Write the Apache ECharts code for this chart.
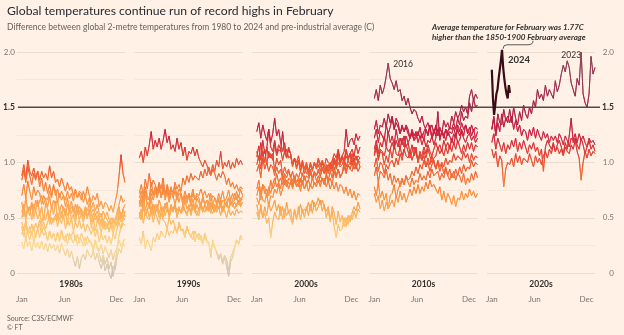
<!DOCTYPE html>
<html>
<head>
<meta charset="utf-8">
<script src="https://cdn.jsdelivr.net/npm/echarts@6/dist/echarts.min.js"></script>
<style>
  html, body { margin: 0; padding: 0; background: #fff1e5; }
  #chart { width: 624px; height: 335px; }
</style>
</head>
<body>
<div id="chart"></div>
<script>
// Day-of-year of each weekly sample (Jan 1 .. Dec 31)
const days = [1,8,15,22,29,36,43,50,57,64,71,78,85,92,99,106,113,120,127,134,141,148,155,162,169,176,183,190,197,204,211,218,225,232,239,246,253,260,267,274,281,288,295,302,309,316,323,330,337,344,351,358,365];
// 2024 only runs to early March
const days2024 = [1,5,9,13,17,21,25,29,33,37,41,45,49,53,57,61,65];

const decades = ['1980s', '1990s', '2000s', '2010s', '2020s'];
const monthTicks = [1, 152, 335];
const monthLabels = ['Jan', 'Jun', 'Dec'];
const threshold = 1.5;

// Temperature above the 1850-1900 average (C), one weekly array per year
const t1980 = [0.64,0.51,0.69,0.55,0.60, 0.48,0.62,0.57,0.66, 0.52,0.60,0.47,0.63, 0.58,0.49,0.61,0.53,0.65, 0.47,0.56,0.50,0.60, 0.55,0.44,0.58,0.49, 0.53,0.45,0.57,0.48,0.54, 0.46,0.55,0.49,0.58, 0.41,0.50,0.38,0.47, 0.44,0.36,0.47,0.39,0.45, 0.37,0.46,0.40,0.48, 0.44,0.56,0.49,0.58,0.51];
const t1981 = [0.70,0.80,0.68,0.83,0.74, 0.66,0.78,0.70,0.75, 0.72,0.62,0.70,0.66, 0.60,0.69,0.58,0.66,0.62, 0.66,0.55,0.62,0.57, 0.52,0.62,0.55,0.60, 0.58,0.50,0.61,0.53,0.57, 0.49,0.57,0.51,0.55, 0.53,0.46,0.54,0.47, 0.50,0.42,0.48,0.44,0.40, 0.47,0.41,0.49,0.44, 0.52,0.60,0.50,0.58,0.62];
const t1982 = [0.42,0.33,0.45,0.36,0.30, 0.38,0.29,0.35,0.40, 0.32,0.41,0.34,0.37, 0.29,0.38,0.31,0.36,0.28, 0.37,0.30,0.39,0.32, 0.28,0.36,0.30,0.34, 0.38,0.29,0.35,0.27,0.36, 0.31,0.25,0.33,0.28, 0.26,0.20,0.28,0.22, 0.18,0.10,0.16,0.08,0.14, 0.04,0.10,-0.03,0.09, 0.22,0.34,0.42,0.48,0.55];
const t1983 = [0.84,0.93,0.82,0.96,0.88, 0.80,0.90,0.84,0.92, 0.78,0.86,0.74,0.82, 0.72,0.80,0.70,0.78,0.74, 0.64,0.72,0.66,0.70, 0.60,0.68,0.58,0.65, 0.55,0.62,0.53,0.60,0.57, 0.50,0.58,0.52,0.57, 0.46,0.54,0.48,0.52, 0.44,0.49,0.40,0.47,0.43, 0.38,0.43,0.36,0.42, 0.44,0.52,0.46,0.50,0.48];
const t1984 = [0.46,0.38,0.48,0.36,0.42, 0.34,0.42,0.32,0.40, 0.44,0.36,0.42,0.37, 0.30,0.38,0.32,0.36,0.29, 0.36,0.28,0.38,0.30, 0.34,0.26,0.36,0.31, 0.27,0.34,0.25,0.32,0.30, 0.24,0.32,0.26,0.30, 0.28,0.22,0.30,0.24, 0.20,0.26,0.17,0.24,0.19, 0.14,0.21,0.12,0.19, 0.22,0.30,0.24,0.28,0.31];
const t1985 = [0.28,0.22,0.32,0.24,0.29, 0.20,0.30,0.23,0.28, 0.22,0.29,0.21,0.27, 0.19,0.27,0.22,0.26,0.20, 0.25,0.18,0.27,0.21, 0.16,0.22,0.14,0.20, 0.12,0.06,0.15,0.04,0.13, 0.17,0.12,0.21,0.16, 0.14,0.20,0.12,0.18, 0.10,0.04,0.12,0.02,0.08, 0.00,-0.05,0.06,0.03, 0.14,0.22,0.18,0.27,0.24];
const t1986 = [0.50,0.60,0.48,0.58,0.52, 0.62,0.50,0.57,0.49, 0.54,0.45,0.52,0.48, 0.56,0.44,0.50,0.46,0.53, 0.42,0.50,0.45,0.52, 0.40,0.48,0.43,0.50, 0.38,0.46,0.41,0.48,0.40, 0.45,0.37,0.44,0.40, 0.35,0.42,0.33,0.40, 0.28,0.36,0.30,0.34,0.27, 0.33,0.26,0.36,0.31, 0.40,0.48,0.55,0.50,0.56];
const t1987 = [0.55,0.62,0.50,0.60,0.56, 0.64,0.56,0.66,0.60, 0.60,0.70,0.62,0.68, 0.66,0.74,0.68,0.80,0.70, 0.76,0.68,0.74,0.70, 0.66,0.74,0.67,0.72, 0.65,0.75,0.68,0.72,0.66, 0.74,0.68,0.78,0.70, 0.64,0.70,0.66,0.72, 0.60,0.65,0.58,0.64,0.62, 0.56,0.61,0.55,0.64, 0.72,0.88,1.07,0.90,0.82];
const t1988 = [0.88,0.98,0.86,1.02,0.92, 0.88,0.95,0.86,0.92, 0.84,0.92,0.86,0.90, 0.84,0.97,0.86,0.92,0.82, 0.85,0.78,0.86,0.80, 0.74,0.82,0.75,0.78, 0.70,0.76,0.68,0.74,0.72, 0.64,0.70,0.62,0.68, 0.58,0.64,0.56,0.62, 0.54,0.50,0.56,0.51,0.55, 0.48,0.44,0.50,0.46, 0.42,0.46,0.40,0.45,0.43];
const t1989 = [0.35,0.42,0.30,0.40,0.36, 0.44,0.38,0.45,0.40, 0.48,0.42,0.46,0.40, 0.46,0.52,0.44,0.50,0.48, 0.54,0.48,0.56,0.50, 0.58,0.52,0.56,0.54, 0.60,0.54,0.62,0.55,0.58, 0.53,0.60,0.56,0.63, 0.54,0.58,0.52,0.56, 0.50,0.54,0.46,0.52,0.48, 0.44,0.50,0.45,0.48, 0.55,0.62,0.70,0.64,0.66];

const t1990 = [0.62,0.70,0.58,0.74,0.66, 0.68,0.82,0.72,0.76, 0.70,0.78,0.68,0.80, 0.66,0.74,0.64,0.72,0.70, 0.62,0.70,0.64,0.72, 0.60,0.69,0.63,0.70, 0.60,0.67,0.58,0.68,0.64, 0.60,0.70,0.62,0.66, 0.64,0.72,0.61,0.68, 0.64,0.72,0.66,0.74,0.65, 0.68,0.75,0.66,0.72, 0.66,0.74,0.68,0.76,0.70];
const t1991 = [0.68,0.74,0.64,0.78,0.70, 0.66,0.76,0.70,0.78, 0.72,0.80,0.68,0.76, 0.70,0.78,0.66,0.76,0.72, 0.78,0.70,0.76,0.72, 0.66,0.74,0.68,0.72, 0.64,0.72,0.66,0.70,0.68, 0.60,0.68,0.62,0.66, 0.56,0.64,0.58,0.62, 0.55,0.60,0.52,0.60,0.56, 0.50,0.58,0.52,0.56, 0.52,0.58,0.54,0.56,0.55];
const t1992 = [0.55,0.48,0.60,0.52,0.58, 0.50,0.56,0.46,0.54, 0.50,0.44,0.54,0.48, 0.46,0.40,0.50,0.44,0.48, 0.42,0.36,0.46,0.40, 0.38,0.32,0.42,0.36, 0.34,0.30,0.38,0.32,0.36, 0.30,0.26,0.34,0.28, 0.26,0.20,0.28,0.22, 0.20,0.14,0.18,0.10,0.16, 0.12,0.02,0.14,0.18, 0.24,0.30,0.26,0.34,0.32];
const t1993 = [0.32,0.26,0.38,0.22,0.30, 0.26,0.20,0.32,0.28, 0.36,0.30,0.38,0.34, 0.32,0.40,0.34,0.38,0.36, 0.42,0.36,0.44,0.38, 0.40,0.34,0.42,0.36, 0.32,0.38,0.28,0.35,0.30, 0.34,0.28,0.36,0.30, 0.28,0.14,0.30,0.24, 0.18,0.12,0.16,0.08,0.14, 0.06,-0.03,0.10,0.14, 0.22,0.30,0.26,0.32,0.30];
const t1994 = [0.50,0.58,0.45,0.55,0.50, 0.48,0.60,0.52,0.56, 0.62,0.54,0.60,0.50, 0.58,0.64,0.50,0.56,0.55, 0.62,0.56,0.60,0.54, 0.56,0.66,0.58,0.62, 0.52,0.60,0.55,0.62,0.57, 0.64,0.56,0.62,0.58, 0.60,0.54,0.62,0.56, 0.62,0.58,0.66,0.56,0.60, 0.60,0.68,0.62,0.66, 0.72,0.66,0.70,0.64,0.70];
const t1995 = [0.72,0.80,0.70,0.85,0.76, 0.90,0.78,0.84,0.80, 0.74,0.82,0.76,0.86, 0.70,0.76,0.70,0.78,0.68, 0.74,0.66,0.72,0.70, 0.64,0.70,0.66,0.72, 0.68,0.76,0.66,0.72,0.70, 0.76,0.70,0.74,0.68, 0.72,0.65,0.70,0.68, 0.62,0.68,0.60,0.66,0.64, 0.62,0.58,0.66,0.60, 0.64,0.60,0.66,0.62,0.64];
const t1996 = [0.55,0.48,0.60,0.52,0.56, 0.64,0.56,0.62,0.54, 0.58,0.50,0.56,0.60, 0.52,0.58,0.54,0.62,0.56, 0.60,0.52,0.58,0.55, 0.62,0.57,0.54,0.60, 0.56,0.62,0.58,0.55,0.52, 0.62,0.58,0.55,0.60, 0.56,0.62,0.58,0.55, 0.62,0.58,0.66,0.55,0.60, 0.64,0.58,0.62,0.64, 0.58,0.62,0.66,0.60,0.64];
const t1997 = [0.60,0.66,0.58,0.70,0.62, 0.64,0.72,0.66,0.74, 0.68,0.76,0.70,0.72, 0.70,0.80,0.74,0.76,0.72, 0.82,0.76,0.80,0.74, 0.86,0.80,0.88,0.82, 0.90,0.84,0.88,0.86,0.84, 0.92,0.86,0.94,0.88, 0.96,0.90,0.98,0.92, 1.02,0.96,1.10,0.94,1.00, 0.96,1.02,0.94,1.00, 0.95,1.04,0.98,1.02,0.98];
const t1998 = [1.04,1.10,1.00,1.14,1.06, 1.16,1.28,1.12,1.20, 1.14,1.22,1.12,1.20, 1.30,1.18,1.24,1.12,1.16, 1.10,1.22,1.12,1.18, 1.06,1.14,1.02,1.10, 1.08,1.14,1.06,1.12,1.04, 1.00,0.96,1.02,0.98, 0.92,0.88,0.94,0.90, 0.84,0.90,0.86,0.92,0.88, 0.80,0.86,0.78,0.82, 0.76,0.80,0.74,0.78,0.76];
const t1999 = [0.66,0.60,0.70,0.56,0.64, 0.58,0.68,0.54,0.62, 0.57,0.66,0.60,0.55, 0.63,0.58,0.52,0.60,0.55, 0.62,0.50,0.58,0.54, 0.61,0.56,0.52,0.60, 0.55,0.62,0.56,0.52,0.58, 0.60,0.55,0.62,0.56, 0.64,0.58,0.54,0.60, 0.58,0.66,0.60,0.56,0.64, 0.60,0.68,0.62,0.64, 0.66,0.70,0.62,0.68,0.66];

const t2000 = [0.55,0.48,0.62,0.50,0.60, 0.52,0.64,0.56,0.60, 0.66,0.56,0.62,0.52, 0.60,0.50,0.64,0.54,0.58, 0.46,0.56,0.48,0.60, 0.48,0.58,0.50,0.60, 0.52,0.62,0.54,0.64,0.56, 0.60,0.66,0.56,0.62, 0.50,0.58,0.46,0.60, 0.54,0.44,0.56,0.46,0.52, 0.42,0.50,0.44,0.52, 0.48,0.56,0.50,0.58,0.55];
const t2001 = [0.70,0.78,0.66,0.80,0.72, 0.76,0.70,0.84,0.76, 0.80,0.90,0.82,0.86, 0.80,0.88,0.78,0.86,0.84, 0.76,0.84,0.78,0.82, 0.74,0.82,0.76,0.80, 0.84,0.78,0.86,0.80,0.82, 0.88,0.82,0.86,0.80, 0.90,0.84,0.92,0.86, 0.96,0.88,0.94,0.86,0.90, 1.00,0.92,0.98,0.94, 0.92,1.00,0.94,1.02,0.96];
const t2002 = [1.05,1.15,1.02,1.20,1.08, 1.12,1.30,1.14,1.10, 1.20,1.08,1.16,1.12, 1.02,1.10,1.04,1.14,1.08, 0.96,1.04,0.94,1.02, 0.92,1.00,0.94,0.98, 0.90,0.98,0.92,1.00,0.94, 0.98,0.92,1.00,0.94, 0.90,0.98,0.92,0.96, 1.02,0.94,1.00,0.96,0.98, 1.04,0.96,1.02,0.98, 1.08,1.00,1.06,1.02,1.04];
const t2003 = [1.10,1.02,1.18,1.06,1.12, 0.98,1.10,1.04,1.08, 0.92,1.04,0.98,1.02, 0.88,0.96,0.90,0.94,0.86, 0.92,0.84,0.90,0.86, 0.82,0.90,0.84,0.88, 0.86,0.92,0.84,0.90,0.88, 0.94,0.88,0.96,0.90, 0.98,0.92,1.00,0.94, 1.04,0.98,1.10,1.00,1.06, 1.02,1.12,1.04,1.08, 1.00,1.08,1.02,1.06,1.04];
const t2004 = [0.92,0.98,0.86,1.04,0.94, 1.00,0.92,0.98,0.96, 0.88,0.96,0.90,0.94, 0.84,0.90,0.86,0.92,0.88, 0.80,0.86,0.82,0.84, 0.78,0.84,0.76,0.82, 0.74,0.80,0.76,0.82,0.78, 0.84,0.78,0.86,0.80, 0.88,0.82,0.86,0.80, 0.92,0.86,0.94,0.88,0.90, 0.96,0.90,0.98,0.94, 1.00,0.94,0.98,0.92,0.96];
const t2005 = [0.98,1.06,0.94,1.10,1.00, 1.14,1.04,1.08,1.02, 1.18,1.06,1.12,1.10, 1.28,1.08,1.12,1.04,1.06, 0.98,1.04,1.00,1.06, 0.96,1.02,0.94,1.00, 0.92,0.98,0.94,1.00,0.96, 1.02,0.96,1.00,0.94, 0.92,0.98,0.94,1.00, 1.04,0.98,1.10,1.02,1.06, 1.00,1.06,1.02,1.08, 0.98,1.04,0.96,1.02,1.00];
const t2006 = [0.76,0.84,0.72,0.80,0.78, 0.68,0.78,0.72,0.80, 0.86,0.78,0.82,0.76, 0.88,0.80,0.84,0.76,0.82, 0.78,0.84,0.80,0.78, 0.86,0.80,0.88,0.82, 0.84,0.90,0.86,0.92,0.88, 0.92,0.88,0.94,0.90, 0.96,0.90,0.98,0.92, 1.00,0.96,1.06,0.98,1.04, 1.00,1.10,1.04,1.08, 1.12,1.06,1.16,1.08,1.14];
const t2007 = [1.28,1.36,1.22,1.34,1.26, 1.20,1.30,1.18,1.26, 1.40,1.24,1.30,1.18, 1.10,1.18,1.04,1.12,1.08, 0.98,1.04,0.96,1.02, 0.92,0.98,0.90,0.96, 0.88,0.94,0.86,0.90,0.84, 0.82,0.88,0.84,0.86, 0.78,0.84,0.76,0.82, 0.76,0.82,0.74,0.80,0.78, 0.72,0.78,0.70,0.76, 0.68,0.74,0.66,0.72,0.70];
const t2008 = [0.62,0.52,0.58,0.50,0.54, 0.45,0.50,0.32,0.46, 0.55,0.50,0.48,0.60, 0.48,0.58,0.52,0.56,0.50, 0.44,0.58,0.50,0.54, 0.62,0.54,0.58,0.56, 0.64,0.56,0.66,0.60,0.62, 0.68,0.62,0.66,0.60, 0.56,0.60,0.48,0.56, 0.42,0.32,0.44,0.38,0.40, 0.50,0.42,0.52,0.46, 0.54,0.60,0.56,0.64,0.58];
const t2009 = [0.68,0.62,0.74,0.66,0.64, 0.72,0.60,0.70,0.68, 0.76,0.72,0.80,0.70, 0.76,0.84,0.78,0.82,0.80, 0.80,0.88,0.82,0.86, 0.92,0.88,0.96,0.90, 0.92,1.00,0.94,0.98,0.96, 1.04,0.98,1.02,0.96, 1.04,1.00,0.98,1.02, 1.08,1.04,1.12,1.02,1.06, 1.10,1.30,1.14,1.20, 1.22,1.16,1.26,1.20,1.24];

const t2010 = [1.12,1.20,1.08,1.18,1.14, 1.24,1.14,1.28,1.18, 1.24,1.16,1.30,1.20, 1.12,1.22,1.14,1.24,1.18, 1.08,1.16,1.06,1.14, 1.00,1.10,1.02,1.06, 0.96,1.04,0.98,1.06,1.00, 0.94,1.00,0.92,0.98, 0.90,0.96,0.88,0.94, 0.86,0.92,0.84,0.90,0.88, 0.82,0.90,0.80,0.86, 0.82,0.90,0.84,0.92,0.86];
const t2011 = [0.72,0.64,0.70,0.58,0.66, 0.56,0.64,0.58,0.62, 0.66,0.60,0.70,0.64, 0.74,0.66,0.72,0.64,0.70, 0.76,0.70,0.78,0.72, 0.80,0.72,0.78,0.74, 0.82,0.76,0.84,0.78,0.80, 0.80,0.72,0.78,0.66, 0.74,0.64,0.72,0.68, 0.62,0.70,0.60,0.68,0.66, 0.74,0.66,0.72,0.68, 0.76,0.70,0.74,0.68,0.72];
const t2012 = [0.78,0.70,0.82,0.68,0.74, 0.66,0.72,0.58,0.70, 0.72,0.80,0.68,0.76, 0.80,0.86,0.80,0.88,0.84, 0.86,0.92,0.88,0.96, 0.90,0.98,0.94,1.02, 0.96,1.00,0.92,0.98,1.02, 0.94,1.02,0.96,1.00, 0.96,1.04,0.98,1.02, 1.00,1.08,1.02,1.06,1.04, 1.02,1.10,1.04,1.08, 1.00,1.08,1.02,1.06,1.04];
const t2013 = [0.88,0.96,0.82,0.92,0.90, 0.86,0.94,0.84,0.90, 0.80,0.88,0.82,0.86, 0.78,0.84,0.80,0.88,0.82, 0.78,0.86,0.80,0.84, 0.82,0.90,0.84,0.88, 0.84,0.92,0.86,0.94,0.88, 0.88,0.92,0.84,0.90, 0.86,0.94,0.88,0.84, 0.90,0.86,0.94,0.88,0.96, 0.90,0.98,0.92,0.96, 0.94,1.02,0.96,1.00,0.98];
const t2014 = [0.96,1.04,0.92,1.00,0.98, 0.90,0.98,0.94,1.00, 1.02,0.96,1.04,0.98, 1.08,1.02,1.12,1.06,1.04, 1.10,1.02,1.08,1.12, 1.00,1.06,1.02,1.10, 1.04,1.12,1.06,1.00,1.04, 1.06,1.14,1.08,1.12, 1.06,1.14,1.08,1.16, 1.10,1.18,1.12,1.20,1.14, 1.08,1.16,1.10,1.18, 1.12,1.18,1.10,1.16,1.14];
const t2015 = [1.08,1.16,1.04,1.12,1.10, 1.06,1.14,1.10,1.12, 1.18,1.12,1.20,1.14, 1.22,1.16,1.24,1.14,1.18, 1.18,1.26,1.20,1.22, 1.28,1.22,1.26,1.20, 1.30,1.24,1.32,1.22,1.26, 1.34,1.28,1.32,1.26, 1.38,1.32,1.36,1.30, 1.42,1.36,1.46,1.40,1.44, 1.52,1.46,1.50,1.44, 1.60,1.66,1.56,1.62,1.58];
const t2016 = [1.58,1.66,1.56,1.70,1.62, 1.68,1.78,1.90,1.76, 1.72,1.66,1.74,1.64, 1.66,1.56,1.60,1.52,1.58, 1.50,1.44,1.48,1.46, 1.40,1.36,1.42,1.34, 1.30,1.26,1.34,1.22,1.30, 1.24,1.30,1.22,1.28, 1.26,1.20,1.28,1.24, 1.18,1.26,1.22,1.30,1.24, 1.30,1.24,1.34,1.26, 1.32,1.24,1.30,1.22,1.28];
const t2017 = [1.30,1.38,1.26,1.34,1.32, 1.40,1.32,1.44,1.36, 1.42,1.30,1.40,1.36, 1.26,1.34,1.28,1.32,1.26, 1.22,1.30,1.24,1.28, 1.18,1.24,1.16,1.22, 1.14,1.20,1.18,1.24,1.16, 1.22,1.46,1.20,1.28, 1.22,1.30,1.24,1.28, 1.26,1.32,1.24,1.34,1.28, 1.36,1.30,1.34,1.28, 1.26,1.34,1.28,1.32,1.30];
const t2018 = [1.06,1.14,1.02,1.10,1.08, 0.98,1.06,1.00,1.12, 1.04,1.16,1.08,1.06, 1.14,1.06,1.12,1.16,1.10, 1.04,1.10,1.14,1.08, 1.02,1.08,1.06,1.14, 1.08,1.16,1.10,1.06,1.12, 1.18,1.12,1.16,1.10, 1.20,1.14,1.18,1.12, 1.22,1.16,1.26,1.18,1.20, 1.28,1.22,1.18,1.24, 1.26,1.20,1.24,1.18,1.22];
const t2019 = [1.22,1.30,1.18,1.28,1.24, 1.20,1.34,1.26,1.32, 1.40,1.30,1.36,1.32, 1.26,1.32,1.28,1.34,1.30, 1.22,1.28,1.20,1.26, 1.24,1.32,1.22,1.28, 1.28,1.36,1.30,1.34,1.26, 1.32,1.24,1.30,1.28, 1.24,1.30,1.28,1.32, 1.30,1.36,1.30,1.40,1.34, 1.46,1.38,1.42,1.40, 1.54,1.46,1.58,1.50,1.52];

const t2020 = [1.30,1.40,1.26,1.44,1.36, 1.34,1.48,1.38,1.42, 1.36,1.42,1.30,1.38, 1.28,1.34,1.24,1.30,1.28, 1.20,1.30,1.24,1.32, 1.22,1.30,1.24,1.20, 1.28,1.22,1.26,1.18,1.24, 1.20,1.24,1.18,1.26, 1.22,1.16,1.24,1.20, 1.14,1.22,1.20,1.26,1.18, 1.26,1.20,1.24,1.18, 1.14,1.22,1.18,1.20,1.16];
const t2021 = [1.12,1.04,1.10,0.96,1.06, 1.02,0.78,0.94,1.00, 0.98,1.04,0.96,1.08, 1.00,1.06,0.98,1.04,1.02, 1.00,1.08,1.02,0.96, 1.06,1.00,1.04,0.98, 1.06,1.10,1.04,1.12,1.08, 1.16,1.10,1.14,1.08, 1.12,1.06,1.14,1.10, 1.08,1.16,1.12,1.20,1.10, 1.04,0.84,1.00,1.10, 1.04,1.12,1.06,1.10,1.08];
const t2022 = [1.18,1.26,1.12,1.22,1.16, 1.10,1.18,1.08,1.16, 1.12,1.20,1.14,1.22, 1.10,1.18,1.12,1.20,1.14, 1.08,1.16,1.12,1.18, 1.10,1.14,1.06,1.12, 0.92,1.14,1.20,1.16,1.12, 1.18,1.10,1.16,1.20, 1.14,1.08,1.18,1.12, 1.24,1.40,1.18,1.22,1.16, 1.12,1.22,1.16,1.08, 1.14,1.20,1.12,1.16,1.10];
const t2023 = [1.30,1.42,1.24,1.36,1.28, 1.44,1.32,1.40,1.36, 1.48,1.36,1.50,1.40, 1.34,1.46,1.38,1.52,1.44, 1.40,1.50,1.44,1.56, 1.50,1.66,1.58,1.62, 1.56,1.70,1.60,1.66,1.62, 1.58,1.74,1.64,1.70, 1.80,1.88,1.82,1.92, 1.86,1.72,1.66,1.60,1.76, 1.70,2.00,1.62,1.54, 1.50,1.62,1.96,1.80,1.86];
const t2024 = [1.84,1.58,1.43,1.52,1.62,1.66,1.76,1.84,1.92,2.02,1.86,1.76,1.68,1.62,1.58,1.70,1.63];

// Years grouped by the decade panel they sit in (2024 is drawn separately)
const panelYears = [
  [[1980,t1980],[1981,t1981],[1982,t1982],[1983,t1983],[1984,t1984],[1985,t1985],[1986,t1986],[1987,t1987],[1988,t1988],[1989,t1989]],
  [[1990,t1990],[1991,t1991],[1992,t1992],[1993,t1993],[1994,t1994],[1995,t1995],[1996,t1996],[1997,t1997],[1998,t1998],[1999,t1999]],
  [[2000,t2000],[2001,t2001],[2002,t2002],[2003,t2003],[2004,t2004],[2005,t2005],[2006,t2006],[2007,t2007],[2008,t2008],[2009,t2009]],
  [[2010,t2010],[2011,t2011],[2012,t2012],[2013,t2013],[2014,t2014],[2015,t2015],[2016,t2016],[2017,t2017],[2018,t2018],[2019,t2019]],
  [[2020,t2020],[2021,t2021],[2022,t2022],[2023,t2023]]
];

// Warming colour ramp, applied along each line by value (0C .. 2C)
const ramp = ['#cbc3bd','#fbd98e','#fdb55a','#f8873a','#e9502f','#cc1f3f','#a61f45','#953652','#8a3f52'];

const FONT = 'Lato';
const INK = '#33302e';
const MUTED = '#7c7570';
const plotTop = 52, plotHeight = 221;
const panelWidth = 108;
const panelLeft = i => 17 + i * 117.5;

const yLabel = v => {
  const s = v === 0 ? '0' : v.toFixed(1);
  return v === threshold ? '{b|' + s + '}' : s;
};
const yRich = { b: { fontWeight: 'bold', color: INK, fontSize: 8.5, fontFamily: FONT } };

const grids = [{ left: 18, right: 24, top: plotTop, height: plotHeight }];
const xAxes = [{ gridIndex: 0, type: 'value', min: 0, max: 1, show: false }];
const yAxes = [
  { gridIndex: 0, type: 'value', min: 0, max: 2, interval: 0.5, position: 'left',
    axisLine: { show: false }, axisTick: { show: false }, splitLine: { show: false },
    axisLabel: { margin: 3, fontSize: 8, color: MUTED, fontFamily: FONT, formatter: yLabel, rich: yRich } },
  { gridIndex: 0, type: 'value', min: 0, max: 2, interval: 0.5, position: 'right',
    axisLine: { show: false }, axisTick: { show: false }, splitLine: { show: false },
    axisLabel: { margin: 14, align: 'right', fontSize: 8, color: MUTED, fontFamily: FONT, formatter: yLabel, rich: yRich } }
];

decades.forEach((name, i) => {
  grids.push({ left: panelLeft(i), width: panelWidth, top: plotTop, height: plotHeight });
  xAxes.push({
    gridIndex: i + 1, type: 'value', min: -16, max: 365,
    name: name, nameLocation: 'middle', nameGap: 7, nameMoveOverlap: false,
    nameTextStyle: { fontWeight: 'bold', fontSize: 8.5, color: INK, fontFamily: FONT },
    axisLine: { show: false }, axisTick: { show: false }, splitLine: { show: false },
    axisLabel: {
      customValues: monthTicks,
      formatter: v => monthLabels[monthTicks.indexOf(v)],
      margin: 22, fontSize: 8, color: MUTED, fontFamily: FONT
    }
  });
  yAxes.push({
    gridIndex: i + 1, type: 'value', min: 0, max: 2, interval: 0.5,
    axisLabel: { show: false }, axisLine: { show: false }, axisTick: { show: false },
    splitLine: { lineStyle: { color: '#eadccf', width: 1 } },
    minorTick: { show: false, splitNumber: 2 },
    minorSplitLine: { show: true, lineStyle: { color: '#f6e7da', width: 1 } }
  });
});

const series = [{
  name: 'threshold', type: 'line', xAxisIndex: 0, yAxisIndex: 0,
  data: [[0, threshold], [1, threshold]], symbol: 'none', silent: true, z: 3,
  lineStyle: { color: '#514a46', width: 1.3 }
}];

const rampSeries = [];
panelYears.forEach((list, i) => {
  list.forEach(([year, vals]) => {
    rampSeries.push(series.length);
    series.push({
      name: String(year), type: 'line', xAxisIndex: i + 1, yAxisIndex: i + 2,
      data: days.map((d, k) => [d, vals[k]]),
      symbol: 'none', silent: true, clip: false, z: 2,
      lineStyle: { width: 1, opacity: 0.9 }
    });
  });
});

series.push({
  name: '2024', type: 'line', xAxisIndex: 5, yAxisIndex: 6,
  data: days2024.map((d, k) => [d, t2024[k]]),
  symbol: 'none', silent: true, clip: false, z: 4,
  lineStyle: { color: '#3a0b14', width: 2.2 }
});

const chart = echarts.init(document.getElementById('chart'), null, { renderer: 'canvas' });
chart.setOption({
  backgroundColor: '#fff1e5',
  animation: false,
  title: [
    { text: 'Global temperatures continue run of record highs in February', left: 7, top: 5, padding: 0,
      textStyle: { fontSize: 12.2, fontWeight: 'normal', color: '#262a33', fontFamily: FONT } },
    { text: 'Difference between global 2-metre temperatures from 1980 to 2024 and pre-industrial average (C)', left: 7, top: 23, padding: 0,
      textStyle: { fontSize: 8.5, fontWeight: 'normal', color: '#66605c', fontFamily: FONT } },
    { text: 'Source: C3S/ECMWF\n© FT', left: 7, top: 314, padding: 0,
      textStyle: { fontSize: 7, lineHeight: 9, fontWeight: 'normal', color: '#66605c', fontFamily: FONT } }
  ],
  grid: grids,
  xAxis: xAxes,
  yAxis: yAxes,
  visualMap: {
    type: 'continuous', show: false, dimension: 1, min: 0, max: 2,
    seriesIndex: rampSeries, inRange: { color: ramp }
  },
  series: series
});

// Labels and the annotation leader, anchored to data points
const argMax = a => a.indexOf(Math.max(...a));
const i24 = argMax(t2024);
const [px, py] = chart.convertToPixel({ gridIndex: 5 }, [days2024[i24], t2024[i24]]);
const i16 = argMax(t2016);
const p16 = chart.convertToPixel({ gridIndex: 4 }, [days[i16], t2016[i16]]);
const i23 = t2023.findIndex(v => v >= 1.9);
const p23 = chart.convertToPixel({ gridIndex: 5 }, [days[i23], t2023[i23]]);

const leader = { stroke: INK, fill: null, lineWidth: 0.8 };
chart.setOption({
  graphic: [
    { type: 'text', x: 432, y: 23, silent: true,
      style: { text: 'Average temperature for February was 1.77C\nhigher than the 1850-1900 February average',
        fontSize: 8, lineHeight: 9.5, fontStyle: 'italic', fontWeight: 'bold', fill: INK, fontFamily: FONT } },
    { type: 'bezierCurve', silent: true,
      shape: { x1: px + 31, y1: py - 9, cpx1: px + 31, cpy1: py - 5, x2: px + 26, y2: py - 5 }, style: leader },
    { type: 'line', silent: true,
      shape: { x1: px + 26, y1: py - 5, x2: px + 5, y2: py - 5 }, style: leader },
    { type: 'bezierCurve', silent: true,
      shape: { x1: px + 5, y1: py - 5, cpx1: px + 1, cpy1: py - 5, x2: px + 1, y2: py - 1 }, style: leader },
    { type: 'text', x: px + 6, y: py + 10, silent: true,
      style: { text: '2024', fontSize: 9.5, fontWeight: 'bold', fill: INK, fontFamily: FONT, verticalAlign: 'middle' } },
    { type: 'text', x: p23[0] + 4, y: p23[1] - 1, silent: true,
      style: { text: '2023', fontSize: 8.5, fill: INK, fontFamily: FONT, align: 'center', verticalAlign: 'bottom' } },
    { type: 'text', x: p16[0] + 5, y: p16[1] + 1, silent: true,
      style: { text: '2016', fontSize: 8.5, fill: INK, fontFamily: FONT, verticalAlign: 'middle' } }
  ]
});
</script>
</body>
</html>
